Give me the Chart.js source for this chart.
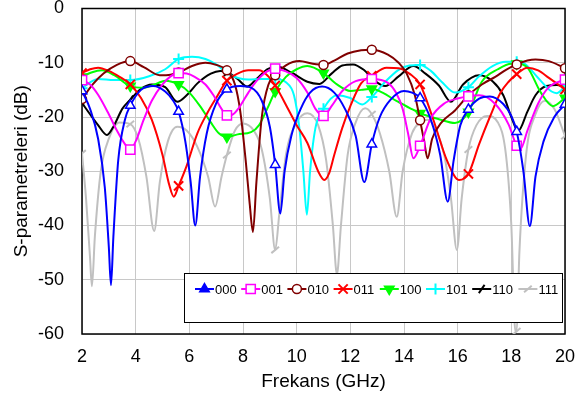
<!DOCTYPE html>
<html><head><meta charset="utf-8">
<script src="https://cdn.jsdelivr.net/npm/chart.js@4.4.1/dist/chart.umd.min.js"></script>
<style>html,body{margin:0;padding:0;background:#fff;overflow:hidden}</style>
</head><body>
<canvas id="c" width="577" height="401"></canvas>
<script>
// ---------- data ----------
const seriesNames = ['000','001','010','011','100','101','110','111'];
const markerX = [2,3.8,5.6,7.4,9.2,11,12.8,14.6,16.4,18.2,20];
const xTickValues = [2,4,6,8,10,12,14,16,18,20];
const yTickValues = [0,-10,-20,-30,-40,-50,-60];
const xTitle = 'Frekans (GHz)';
const yTitle = 'S-parametreleri (dB)';

const s000 = [[2,-15.2],[2.3,-18.5],[2.6,-24],[2.85,-33],[3.0,-44],[3.08,-51],[3.17,-42],[3.35,-28],[3.6,-20.5],[3.8,-17.9],[4.2,-15],[4.65,-14.3],[5.1,-15.3],[5.4,-17],[5.6,-19],[5.85,-24.5],[6.05,-32],[6.22,-40],[6.4,-31],[6.65,-23],[7.0,-17.5],[7.4,-14.9],[7.9,-14.3],[8.3,-14.6],[8.7,-17],[9.0,-21.8],[9.2,-28.8],[9.39,-37.8],[9.55,-30],[9.8,-23.5],[10.15,-18.5],[10.5,-15.5],[10.95,-14.4],[11.4,-15.5],[11.8,-18.5],[12.2,-23.5],[12.52,-32],[12.8,-25],[13.1,-20],[13.5,-16.8],[14.0,-15.2],[14.3,-15.5],[14.6,-16.5],[15.0,-20.5],[15.35,-27],[15.63,-35.6],[15.85,-28],[16.1,-21.5],[16.4,-18.6],[16.8,-16.6],[17.2,-16.2],[17.7,-17.6],[18.0,-19.8],[18.2,-22.7],[18.45,-30],[18.69,-40.1],[18.9,-31],[19.2,-24.5],[19.6,-20],[20,-17.7]];
const s001 = [[2,-13.2],[2.3,-14],[2.6,-15.9],[3.0,-19.5],[3.3,-22.5],[3.6,-25],[3.8,-26],[4.0,-24.5],[4.3,-20.5],[4.6,-17],[5.0,-14],[5.3,-12.5],[5.6,-11.9],[5.9,-12],[6.2,-12.6],[6.6,-14],[6.9,-16],[7.2,-18.5],[7.4,-19.7],[7.6,-19.6],[7.85,-18.3],[8.2,-15.5],[8.5,-13.4],[8.9,-11.6],[9.2,-11.1],[9.6,-11.6],[10.0,-12.8],[10.4,-15.5],[10.7,-18.5],[11.0,-19.8],[11.3,-18],[11.7,-15.2],[12.2,-13.4],[12.8,-13.0],[13.4,-13.7],[13.7,-15.5],[13.95,-18.5],[14.15,-23],[14.35,-27.6],[14.6,-25.3],[15.0,-20.2],[15.5,-17.5],[16.0,-16.6],[16.4,-16.2],[16.8,-16],[17.4,-17.6],[17.9,-21.4],[18.2,-25.3],[18.35,-25.8],[18.6,-22.5],[19.0,-17.5],[19.4,-14.5],[20,-13.1]];
const s010 = [[2,-16.7],[2.4,-14],[2.8,-12],[3.3,-10.4],[3.8,-9.7],[4.3,-10.8],[4.9,-12.3],[5.3,-12.2],[5.6,-11.8],[6.1,-10.6],[6.6,-10],[7.0,-10.4],[7.4,-11.4],[7.7,-14],[7.9,-19],[8.1,-28],[8.25,-36],[8.37,-41.2],[8.5,-32],[8.7,-20],[8.95,-14],[9.2,-12.3],[9.6,-10.5],[10.1,-9.7],[10.6,-10.2],[11,-10.4],[11.4,-9.6],[11.9,-8.3],[12.4,-7.7],[12.8,-7.6],[13.4,-8.5],[13.8,-10],[14.1,-12],[14.4,-15.9],[14.6,-20.6],[14.75,-24.5],[14.88,-27.6],[15.05,-24],[15.4,-21],[15.9,-18.8],[16.4,-16],[16.9,-14],[17.4,-12.6],[17.8,-11.3],[18.2,-10.3],[18.6,-9.6],[18.9,-9.4],[19.4,-9.7],[20,-11]];
const s011 = [[2,-11.9],[2.3,-11.2],[2.6,-10.9],[3.0,-11.5],[3.4,-12.6],[3.8,-14],[4.2,-16.5],[4.6,-20.5],[5.0,-27],[5.25,-32.5],[5.42,-34.7],[5.6,-32.7],[5.9,-29],[6.3,-23],[6.7,-19],[7.0,-16.5],[7.4,-13.3],[7.8,-12],[8.2,-11.4],[8.6,-11.4],[8.9,-12.3],[9.2,-14.2],[9.7,-18.7],[10.0,-21.5],[10.4,-24.8],[10.8,-30],[11.03,-31.6],[11.2,-30.5],[11.4,-27],[11.7,-22],[12.0,-18],[12.4,-13.8],[12.8,-12.4],[13.35,-10.9],[13.8,-11],[14.2,-12],[14.6,-14],[15.1,-20.6],[15.6,-28],[16.05,-31.6],[16.4,-30.5],[16.8,-25],[17.2,-20],[17.6,-15.5],[17.9,-13.5],[18.2,-12.1],[18.6,-10.9],[19.0,-11.4],[19.4,-12.8],[20,-14.9]];
const s100 = [[2,-12.6],[2.35,-11.8],[2.75,-11.4],[3.2,-12.3],[3.8,-14.3],[4.3,-14.6],[4.8,-13.8],[5.1,-13.3],[5.6,-14],[6.0,-15.5],[6.4,-18],[6.8,-21],[7.1,-23],[7.4,-23.7],[7.8,-23.2],[8.3,-22.8],[8.6,-21.5],[8.9,-18.5],[9.2,-15.3],[9.6,-12.6],[10.0,-11.2],[10.4,-10.6],[11.0,-11.9],[11.5,-14],[12.0,-15.2],[12.4,-15],[12.8,-14.8],[13.2,-15.5],[13.7,-17],[14.2,-18.3],[14.6,-19.3],[15.3,-20.4],[15.9,-21.1],[16.4,-19.1],[16.9,-13.5],[17.5,-11.2],[18.0,-10.2],[18.2,-10.2],[18.6,-10.9],[19.1,-15.5],[19.55,-18],[20,-16.5]];
const s101 = [[2,-14.7],[2.3,-13.6],[2.6,-13],[3.2,-13.2],[3.8,-13.2],[4.5,-12.5],[5.1,-11.2],[5.6,-9.3],[6.1,-8.9],[6.6,-9.3],[7.0,-10.3],[7.5,-12.2],[8.2,-13.1],[8.7,-13],[9.2,-13],[9.6,-13.6],[9.9,-16],[10.1,-22],[10.25,-30],[10.38,-38],[10.5,-30],[10.7,-22],[11.0,-18.5],[11.5,-16],[12.0,-16.5],[12.45,-17.7],[12.8,-16.3],[13.3,-13.5],[13.8,-11.3],[14.2,-10.5],[14.6,-10.4],[15.0,-11.5],[15.4,-13.5],[15.9,-15.5],[16.4,-14.5],[16.8,-12.5],[17.3,-10.6],[17.8,-9.8],[18.2,-9.8],[18.5,-10.2],[19.0,-12.8],[19.5,-15.3],[19.7,-15.6],[20,-14.3]];
const s110 = [[2,-17.4],[2.3,-19.5],[2.6,-21.5],[2.93,-23.3],[3.2,-21.5],[3.5,-18.5],[3.8,-16.8],[4.2,-14.8],[4.6,-14],[5.1,-14.5],[5.55,-17.2],[5.9,-16],[6.3,-13.8],[6.8,-12],[7.15,-11.5],[7.4,-11.7],[7.8,-13],[8.15,-14.4],[8.5,-13],[8.9,-11.2],[9.27,-10.7],[9.8,-11.8],[10.4,-13.5],[10.85,-13.9],[11.3,-12],[11.7,-10.5],[12.1,-10.3],[12.5,-11.3],[12.9,-13.3],[13.3,-14.3],[13.8,-12.5],[14.35,-10.6],[14.8,-12],[15.3,-14.2],[15.75,-17.2],[16.2,-14],[16.8,-12.3],[17.3,-13.4],[17.7,-16],[18.0,-20],[18.25,-22.6],[18.6,-19],[18.9,-16],[19.3,-14.3],[19.7,-14.1],[20,-14.4]];
const s111 = [[2,-26.7],[2.15,-35],[2.3,-46],[2.37,-51.2],[2.48,-42],[2.7,-30],[3.0,-24],[3.4,-21],[3.8,-21.3],[4.1,-24],[4.4,-31],[4.69,-41],[4.9,-32],[5.2,-24.5],[5.55,-21.8],[5.9,-22.5],[6.3,-25.5],[6.7,-31],[6.96,-36.5],[7.2,-31],[7.4,-27],[7.7,-22.5],[8.0,-21.2],[8.4,-22.5],[8.7,-26],[9.0,-35],[9.2,-44.5],[9.35,-38],[9.6,-27],[10.0,-21],[10.4,-19.3],[10.8,-21.5],[11.1,-28],[11.35,-40],[11.5,-49],[11.65,-40],[11.9,-27],[12.2,-21],[12.55,-18.4],[12.8,-19.5],[13.1,-23],[13.45,-30],[13.73,-38.4],[13.95,-30],[14.3,-23],[14.6,-21],[14.9,-20.5],[15.2,-22.5],[15.5,-27],[15.75,-35],[15.97,-44.5],[16.15,-35],[16.4,-26],[16.7,-21.5],[17.1,-19.8],[17.5,-21],[17.8,-27],[18.0,-40],[18.15,-59.5],[18.2,-59.5],[18.3,-45],[18.55,-27],[18.9,-19.5],[19.25,-17],[19.6,-18.5],[20,-23.5]];

const seriesData = [s000,s001,s010,s011,s100,s101,s110,s111];

// ---------- styles ----------
const colors = ['#0000FF','#FF00FF','#800000','#FF0000','#00FF00','#00FFFF','#000000','#C0C0C0'];
const styles = [
  {ps:'triangle', r:5.5, rot:0,   fill:'#FFFFFF', legendFill:'#0000FF', bw:1.5},
  {ps:'rect',     r:6.5, rot:0,   fill:'#FFFFFF', legendFill:'#FFFFFF', bw:1.5},
  {ps:'circle',   r:4.5, rot:0,   fill:'#FFFFFF', legendFill:'#FFFFFF', bw:1.5},
  {ps:'crossRot', r:6.5, rot:0,   fill:'#FF0000', legendFill:'#FF0000', bw:2},
  {ps:'triangle', r:5.5, rot:180, fill:'#00FF00', legendFill:'#00FF00', bw:1.5},
  {ps:'cross',    r:5.5, rot:0,   fill:'#00FFFF', legendFill:'#00FFFF', bw:2},
  {ps:'line',     r:5,   rot:-55, fill:'#000000', legendFill:'#000000', bw:2},
  {ps:'line',     r:5,   rot:-40, fill:'#C0C0C0', legendFill:'#C0C0C0', bw:2}
];

const FONT = '"Liberation Sans", Arial, Helvetica, sans-serif';
Chart.defaults.font.family = FONT;
Chart.defaults.color = '#000';

function isMarker(x){ return markerX.some(m => Math.abs(m - x) < 1e-6); }
function noPad(s){ s.paddingTop = 0; s.paddingBottom = 0; s.paddingLeft = 0; s.paddingRight = 0; }

const datasets = seriesNames.map((name, i) => ({
  label: name,
  data: seriesData[i].map(p => ({x: p[0], y: p[1]})),
  borderColor: colors[i],
  backgroundColor: colors[i],
  borderWidth: 2,
  cubicInterpolationMode: 'monotone',
  pointStyle: styles[i].ps,
  pointRotation: styles[i].rot,
  pointBorderColor: colors[i],
  pointBackgroundColor: styles[i].fill,
  pointBorderWidth: styles[i].bw,
  pointRadius: ctx => (ctx.raw && isMarker(ctx.raw.x)) ? styles[i].r : 0,
  pointHoverRadius: 0
}));

const framePlugin = {
  id: 'frame',
  beforeDatasetsDraw(chart){
    const a = chart.chartArea, ctx = chart.ctx;
    ctx.save();
    ctx.strokeStyle = '#000'; ctx.lineWidth = 1.5;
    ctx.strokeRect(a.left, a.top, a.right - a.left, a.bottom - a.top);
    ctx.restore();
  }
};

const boxLegend = {
  id: 'boxLegend',
  afterDraw(chart){
    const ctx = chart.ctx;
    ctx.save();
    const bx = 184, by = 273, bw = 378, bh = 49;
    ctx.fillStyle = '#fff'; ctx.fillRect(bx, by, bw, bh);
    ctx.strokeStyle = '#000'; ctx.lineWidth = 1; ctx.strokeRect(bx + 0.5, by + 0.5, bw, bh);
    const y = 289;
    chart.data.datasets.forEach((ds, i) => {
      const x0 = 195 + i * 46.2;
      ctx.strokeStyle = colors[i]; ctx.lineWidth = 2;
      ctx.beginPath(); ctx.moveTo(x0, y); ctx.lineTo(x0 + 19, y); ctx.stroke();
      ctx.fillStyle = styles[i].legendFill;
      ctx.strokeStyle = colors[i]; ctx.lineWidth = styles[i].bw;
      Chart.helpers.drawPoint(ctx, {pointStyle: styles[i].ps, radius: styles[i].r, rotation: styles[i].rot, borderWidth: styles[i].bw}, x0 + 9.5, y);
      ctx.fillStyle = '#000';
      ctx.font = '13px ' + FONT;
      ctx.textBaseline = 'middle'; ctx.textAlign = 'left';
      ctx.fillText(ds.label, x0 + 20, y + 1);
    });
    ctx.restore();
  }
};

new Chart(document.getElementById('c'), {
  type: 'line',
  data: { datasets },
  options: {
    responsive: false,
    animation: false,
    devicePixelRatio: 1,
    layout: { padding: { top: 8, right: 12, left: 0, bottom: 0 } },
    plugins: { legend: { display: false }, tooltip: { enabled: false } },
    scales: {
      x: {
        type: 'linear', min: 2, max: 20,
        afterBuildTicks: s => { s.ticks = xTickValues.map(v => ({value: v})); },
        afterFit: s => { s.height = 67; noPad(s); },
        grid: { color: '#C8C8C8', lineWidth: 1, drawTicks: false },
        border: { display: false },
        ticks: { font: { size: 18 }, padding: 12, maxRotation: 0, color: '#000' },
        title: { display: true, text: xTitle, font: { size: 19 }, padding: { top: 0, bottom: 8 }, color: '#000' }
      },
      y: {
        type: 'linear', min: -60, max: 0,
        afterBuildTicks: s => { s.ticks = yTickValues.map(v => ({value: v})); },
        afterFit: s => { s.width = 82; noPad(s); },
        grid: { color: '#C8C8C8', lineWidth: 1, drawTicks: false },
        border: { display: false },
        ticks: { font: { size: 18 }, padding: 18, color: '#000' },
        title: { display: true, text: yTitle, font: { size: 19 }, padding: { top: 10, bottom: 0 }, color: '#000' }
      }
    }
  },
  plugins: [framePlugin, boxLegend]
});
</script>
</body></html>
